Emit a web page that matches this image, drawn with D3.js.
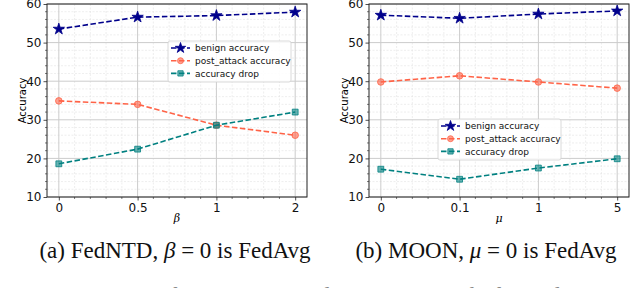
<!DOCTYPE html>
<html>
<head>
<meta charset="utf-8">
<script src="https://cdn.jsdelivr.net/npm/d3@7.9.0/dist/d3.min.js"></script>
<style>
  body { margin: 0; background: #fff; }
  svg { display: block; }
  .tick text { font-family: "DejaVu Sans", sans-serif; }
</style>
</head>
<body>
<svg id="fig" width="640" height="288"></svg>
<script>
// ---- data ----
const seriesNames = ["benign accuracy", "post_attack accuracy", "accuracy drop"];
const seriesColors = ["#00008b", "#ff6347", "#008080"];
const seriesSymbols = [d3.symbolStar, d3.symbolCircle, d3.symbolSquare];

const ntdCats = ["0", "0.5", "1", "2"];
const ntdBenign = [53.5, 56.6, 57.0, 57.9];
const ntdPost = [34.9, 34.0, 28.6, 26.0];
const ntdDrop = [18.6, 22.4, 28.6, 32.0];

const moonCats = ["0", "0.1", "1", "5"];
const moonBenign = [57.1, 56.3, 57.4, 58.2];
const moonPost = [39.8, 41.4, 39.8, 38.2];
const moonDrop = [17.2, 14.6, 17.5, 19.9];

const yTicks = [10, 20, 30, 40, 50, 60];

const serif = "'Liberation Serif', 'Times New Roman', 'DejaVu Serif', serif";
const svg = d3.select("#fig");

/* ------------------------------
 one panel
------------------------------ */
function drawPanel(opts) {
  const { left, right, top, bottom, cats, series, xLabel, legendPos } = opts;
  const g = svg.append("g");

  const x = d3.scalePoint().domain(cats).range([left, right]).padding(0.15);
  const xi = d3.scaleLinear().domain([0, cats.length - 1])
    .range([x(cats[0]), x(cats[cats.length - 1])]);
  const y = d3.scaleLinear().domain([10, 60]).range([bottom, top]);

  // minor grid
  const minorX = d3.range(0, cats.length - 1 + 0.001, 0.2)
    .filter((v) => Math.abs(v - Math.round(v)) > 0.01);
  const minorY = d3.range(10, 60.001, 2).filter((v) => v % 10 !== 0);

  g.append("g").selectAll("line").data(minorX).join("line")
    .attr("x1", (d) => xi(d)).attr("x2", (d) => xi(d))
    .attr("y1", top).attr("y2", bottom)
    .attr("stroke", "#e2e2e2").attr("stroke-width", 0.6)
    .attr("stroke-dasharray", "2,1.5");
  g.append("g").selectAll("line").data(minorY).join("line")
    .attr("x1", left).attr("x2", right)
    .attr("y1", (d) => y(d)).attr("y2", (d) => y(d))
    .attr("stroke", "#e2e2e2").attr("stroke-width", 0.6)
    .attr("stroke-dasharray", "2,1.5");

  // major grid
  g.append("g").selectAll("line").data(cats).join("line")
    .attr("x1", (d) => x(d)).attr("x2", (d) => x(d))
    .attr("y1", top).attr("y2", bottom)
    .attr("stroke", "#cccccc").attr("stroke-width", 1);
  g.append("g").selectAll("line").data(yTicks).join("line")
    .attr("x1", left).attr("x2", right)
    .attr("y1", (d) => y(d)).attr("y2", (d) => y(d))
    .attr("stroke", "#cccccc").attr("stroke-width", 1);

  // axes
  const xAxis = g.append("g")
    .attr("transform", `translate(0,${bottom})`)
    .call(d3.axisBottom(x).tickSize(3.5).tickPadding(3));
  const yAxis = g.append("g")
    .attr("transform", `translate(${left},0)`)
    .call(d3.axisLeft(y).tickValues(yTicks).tickSize(3.5).tickPadding(2));
  [xAxis, yAxis].forEach((a) => {
    a.select(".domain").remove();
    a.selectAll(".tick text").attr("font-size", 12).attr("fill", "#111");
    a.selectAll(".tick line").attr("stroke", "#222").attr("stroke-width", 0.8);
  });
  // minor ticks
  g.append("g").selectAll("line").data(minorX).join("line")
    .attr("x1", (d) => xi(d)).attr("x2", (d) => xi(d))
    .attr("y1", bottom).attr("y2", bottom + 2)
    .attr("stroke", "#222").attr("stroke-width", 0.6);
  g.append("g").selectAll("line").data(minorY).join("line")
    .attr("x1", left - 2).attr("x2", left)
    .attr("y1", (d) => y(d)).attr("y2", (d) => y(d))
    .attr("stroke", "#222").attr("stroke-width", 0.6);

  // frame
  g.append("rect")
    .attr("x", left).attr("y", top)
    .attr("width", right - left).attr("height", bottom - top)
    .attr("fill", "none").attr("stroke", "#222").attr("stroke-width", 1);

  // series
  const line = d3.line().x((d, i) => x(cats[i])).y((d) => y(d));
  series.forEach((vals, s) => {
    g.append("path").datum(vals)
      .attr("d", line)
      .attr("fill", "none")
      .attr("stroke", seriesColors[s])
      .attr("stroke-width", 1.6)
      .attr("stroke-dasharray", "5.5,2.5");
    g.append("g").selectAll("path").data(vals).join("path")
      .attr("transform", (d, i) => `translate(${x(cats[i])},${y(d)})`)
      .attr("d", d3.symbol(seriesSymbols[s], s === 0 ? 40 : 34))
      .attr("fill", seriesColors[s])
      .attr("fill-opacity", s === 0 ? 1 : 0.6)
      .attr("stroke", seriesColors[s])
      .attr("stroke-width", 0.8);
  });

  // axis labels
  g.append("text")
    .attr("transform", `translate(${left - 25},${(top + bottom) / 2}) rotate(-90)`)
    .attr("text-anchor", "middle")
    .attr("dy", "0.35em")
    .attr("font-family", "DejaVu Sans, sans-serif")
    .attr("font-size", 10)
    .text("Accuracy");
  g.append("text")
    .attr("x", (left + right) / 2).attr("y", bottom + 25)
    .attr("text-anchor", "middle")
    .attr("font-family", "DejaVu Serif, serif")
    .attr("font-style", "italic")
    .attr("font-size", 11)
    .text(xLabel);

  // legend
  const lg = g.append("g").attr("transform", `translate(${legendPos[0]},${legendPos[1]})`);
  lg.append("rect")
    .attr("width", 123).attr("height", 41).attr("rx", 2)
    .attr("fill", "#fff").attr("fill-opacity", 0.85)
    .attr("stroke", "#d0d0d0").attr("stroke-width", 0.8);
  seriesNames.forEach((name, s) => {
    const yy = 7 + s * 12.7;
    lg.append("line")
      .attr("x1", 3).attr("x2", 22).attr("y1", yy).attr("y2", yy)
      .attr("stroke", seriesColors[s]).attr("stroke-width", 1.6)
      .attr("stroke-dasharray", "5.5,2.5");
    lg.append("path")
      .attr("transform", `translate(12.5,${yy})`)
      .attr("d", d3.symbol(seriesSymbols[s], s === 0 ? 34 : 28))
      .attr("fill", seriesColors[s])
      .attr("fill-opacity", s === 0 ? 1 : 0.6)
      .attr("stroke", seriesColors[s]).attr("stroke-width", 0.8);
    lg.append("text")
      .attr("x", 27).attr("y", yy).attr("dy", "0.35em")
      .attr("font-family", "DejaVu Sans, sans-serif")
      .attr("font-size", 9)
      .attr("fill", "#111")
      .text(name);
  });
}

drawPanel({
  left: 47, right: 307, top: 4, bottom: 197,
  cats: ntdCats, series: [ntdBenign, ntdPost, ntdDrop],
  xLabel: "β", legendPos: [168, 41],
});
drawPanel({
  left: 369, right: 629, top: 4, bottom: 197,
  cats: moonCats, series: [moonBenign, moonPost, moonDrop],
  xLabel: "μ", legendPos: [438, 119],
});

// captions
function caption(cx, parts) {
  const t = svg.append("text")
    .attr("x", cx).attr("y", 258)
    .attr("text-anchor", "middle")
    .attr("font-family", serif)
    .attr("font-size", 23).attr("fill", "#111");
  parts.forEach(([s, it]) => {
    t.append("tspan").attr("font-style", it ? "italic" : "normal").text(s);
  });
}
caption(175, [["(a) FedNTD, ", false], ["β", true], [" = 0 is FedAvg", false]]);
caption(486, [["(b) MOON, ", false], ["μ", true], [" = 0 is FedAvg", false]]);

// cut-off figure caption line below
svg.append("text")
  .attr("x", -1).attr("y", 303)
  .attr("font-family", serif)
  .attr("font-size", 23).attr("fill", "#888")
  .text("Figure 3: Impact of increasing KL divergence weight for FedNTD");
</script>
</body>
</html>
